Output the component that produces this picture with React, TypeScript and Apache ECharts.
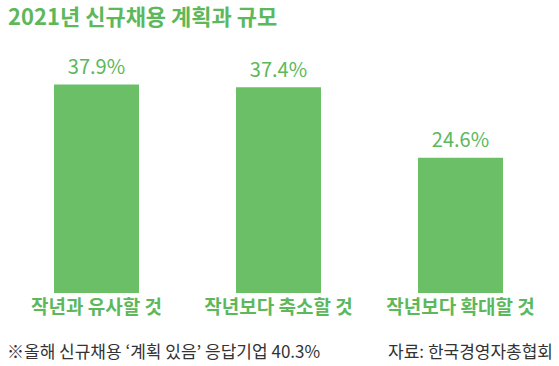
import React, { useEffect, useRef } from "react";
import * as echarts from "echarts";

const categories = ["작년과 유사할 것", "작년보다 축소할 것", "작년보다 확대할 것"];
const values = [37.9, 37.4, 24.6];
const titleText = "2021년 신규채용 계획과 규모";
const noteText = "※올해 신규채용 ‘계획 있음’ 응답기업 40.3%";
const sourceText = "자료: 한국경영자총협회";

const GREEN = "#6BBF67";
const TEXT_GREEN = "#5DB85C";
const FONT = "'Noto Sans CJK KR', 'Noto Sans', sans-serif";

export default function App() {
  const ref = useRef<HTMLDivElement>(null);
  useEffect(() => {
    if (!ref.current) return;
    const chart = echarts.init(ref.current, undefined, { renderer: "svg" });
    chart.setOption({
      animation: false,
      backgroundColor: "#ffffff",
      textStyle: { fontFamily: FONT },
      title: {
        text: titleText,
        left: 4,
        top: 3,
        padding: [0, 4, 0, 4],
        textStyle: { color: TEXT_GREEN, fontSize: 22, lineHeight: 24, fontWeight: "bold", fontFamily: FONT },
      },
      grid: { left: 5.5, right: 7.5, top: 73, bottom: 73, containLabel: false },
      xAxis: {
        type: "category",
        data: categories,
        axisLine: { show: false },
        axisTick: { show: false },
        axisLabel: {
          color: TEXT_GREEN,
          fontSize: 19,
          fontWeight: "bold",
          margin: 3,
          fontFamily: FONT,
          interval: 0,
        },
      },
      yAxis: {
        type: "value",
        min: 0,
        max: 40,
        show: false,
        splitLine: { show: false },
      },
      series: [
        {
          type: "bar",
          data: values,
          barWidth: 85,
          itemStyle: { color: GREEN },
          label: {
            show: true,
            position: "top",
            distance: 9,
            formatter: (p: any) => p.value.toFixed(1) + "%",
            color: TEXT_GREEN,
            fontSize: 20,
            fontFamily: FONT,
          },
        },
      ],
      graphic: [
        {
          type: "text",
          left: 7,
          top: 342,
          style: { text: noteText, fill: "#333333", fontSize: 17, fontFamily: FONT },
        },
        {
          type: "text",
          right: 6,
          top: 342,
          style: { text: sourceText, fill: "#333333", fontSize: 17, fontFamily: FONT },
        },
      ],
    });
    return () => chart.dispose();
  }, []);
  return (
    <div
      ref={ref}
      style={{ position: "fixed", left: 0, top: 0, width: 559, height: 366, background: "#fff" }}
    />
  );
}
